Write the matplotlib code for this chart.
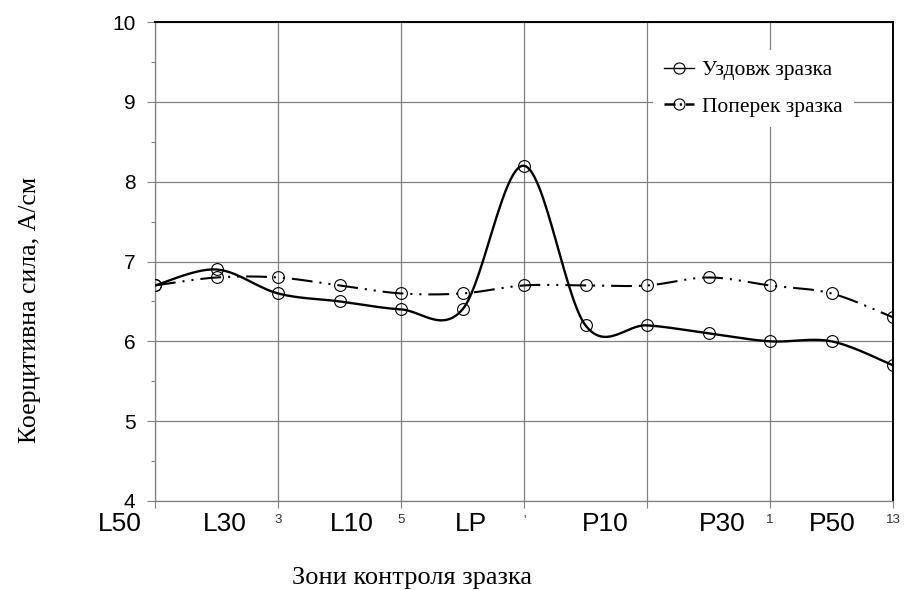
import numpy as np
import matplotlib
matplotlib.use('Agg')
import matplotlib.pyplot as plt
from matplotlib.lines import Line2D

plt.rcParams['lines.scale_dashes'] = False

# Дані
zones = np.arange(1, 14)
uzdovzh = [6.7, 6.9, 6.6, 6.5, 6.4, 6.4, 8.2, 6.2, 6.2, 6.1, 6.0, 6.0, 5.7]
poperek = [6.7, 6.8, 6.8, 6.7, 6.6, 6.6, 6.7, 6.7, 6.7, 6.8, 6.7, 6.6, 6.3]

zone_labels = ['L50', 'L30', 'L10', 'LP', 'P10', 'P30', 'P50']
zone_label_pos = [0.43, 2.14, 4.2, 6.14, 8.32, 10.22, 12.02]
small_ticks = [1, 3, 5, 7, 9, 11, 13]
small_labels = ['', '3', '5', "'", '', '1', '13']
y_ticks = [4, 5, 6, 7, 8, 9, 10]


def smooth(x, y, n=30):
    """Згладжування як в Excel (кубічні Безьє, Catmull-Rom)"""
    x = np.asarray(x, float)
    y = np.asarray(y, float)
    px = np.concatenate([[x[0]], x, [x[-1]]])
    py = np.concatenate([[y[0]], y, [y[-1]]])
    t = np.linspace(0, 1, n)
    xs, ys = [], []
    for i in range(len(x) - 1):
        p0 = np.array([px[i + 1], py[i + 1]])
        p3 = np.array([px[i + 2], py[i + 2]])
        c1 = p0 + (p3 - np.array([px[i], py[i]])) / 6
        c2 = p3 - (np.array([px[i + 3], py[i + 3]]) - p0) / 6
        b = ((1 - t) ** 3)[:, None] * p0 + (3 * (1 - t) ** 2 * t)[:, None] * c1 \
            + (3 * (1 - t) * t ** 2)[:, None] * c2 + (t ** 3)[:, None] * p3
        xs.append(b[:, 0])
        ys.append(b[:, 1])
    return np.concatenate(xs), np.concatenate(ys)


fig = plt.figure(figsize=(9.05, 5.9), dpi=100)
ax = fig.add_axes([155 / 905, 1 - 501 / 590, 738 / 905, 479 / 590])

dash_style = (0, (15, 5, 1.5, 5, 1.5, 5))

sx, sy = smooth(zones, poperek)
ax.plot(sx, sy, color='black', lw=1.5, linestyle=dash_style, zorder=3)
ax.plot(zones, poperek, 'o', mfc='none', mec='black', ms=8.5, mew=0.8, zorder=4)

sx, sy = smooth(zones, uzdovzh)
ax.plot(sx, sy, color='black', lw=1.7, zorder=3)
ax.plot(zones, uzdovzh, 'o', mfc='none', mec='black', ms=8.5, mew=0.8, zorder=4)

ax.set_xlim(1, 13)
ax.set_ylim(4, 10)
ax.set_xticks(small_ticks)
ax.set_xticklabels([])
ax.set_yticks(y_ticks)
ax.set_yticks(np.arange(4.5, 10, 1), minor=True)
ax.tick_params(axis='y', which='major', length=6, width=0.8, color='#808080',
               labelsize=15, pad=8)
ax.tick_params(axis='y', which='minor', length=3, width=0.8, color='#808080')
ax.tick_params(axis='x', length=5, width=0.8, color='#808080')
for lab in ax.get_yticklabels():
    lab.set_fontfamily('Liberation Sans')
    lab.set_verticalalignment('center_baseline')

ax.grid(True, which='major', color='#808080', lw=0.9)
ax.set_axisbelow(True)
for s in ['left', 'bottom']:
    ax.spines[s].set_color('#808080')
    ax.spines[s].set_linewidth(0.9)
for s in ['top', 'right']:
    ax.spines[s].set_color('black')
    ax.spines[s].set_linewidth(1.4)

tr = ax.get_xaxis_transform()
for pos, lab in zip(small_ticks, small_labels):
    ax.text(pos, -0.04, lab, transform=tr, ha='center', va='center',
            fontsize=9.5, family='Liberation Sans', color='#333333')
for pos, lab in zip(zone_label_pos, zone_labels):
    ax.text(pos, -0.047, lab, transform=tr, ha='center', va='center',
            fontsize=19, family='Liberation Sans', color='black',
            clip_on=False)

handles = [
    Line2D([], [], color='black', lw=1.0, marker='o', mfc='none', mec='black',
           ms=8, mew=0.8),
    Line2D([], [], color='black', lw=1.8, linestyle=(0, (8, 3, 1.5, 3)),
           marker='o', mfc='none', mec='black', ms=8, mew=0.8),
]
leg = ax.legend(handles, ['Уздовж зразка', 'Поперек зразка'],
                loc='upper left', bbox_to_anchor=(0.66, 0.965),
                frameon=True, fancybox=False, edgecolor='none',
                facecolor='white', framealpha=1, handlelength=1.4,
                handletextpad=0.4, labelspacing=0.75, borderpad=0.5,
                prop={'family': 'Liberation Serif', 'size': 15.5})

fig.text(0.033, 1 - 310 / 590, 'Коерцитивна сила, А/см', rotation=90,
         ha='center', va='center', fontsize=18.5, family='Liberation Serif')
fig.text(412 / 905, 1 - 578 / 590, 'Зони контроля зразка',
         ha='center', va='center', fontsize=19, family='Liberation Serif')

fig.savefig('out.png', dpi=100)
